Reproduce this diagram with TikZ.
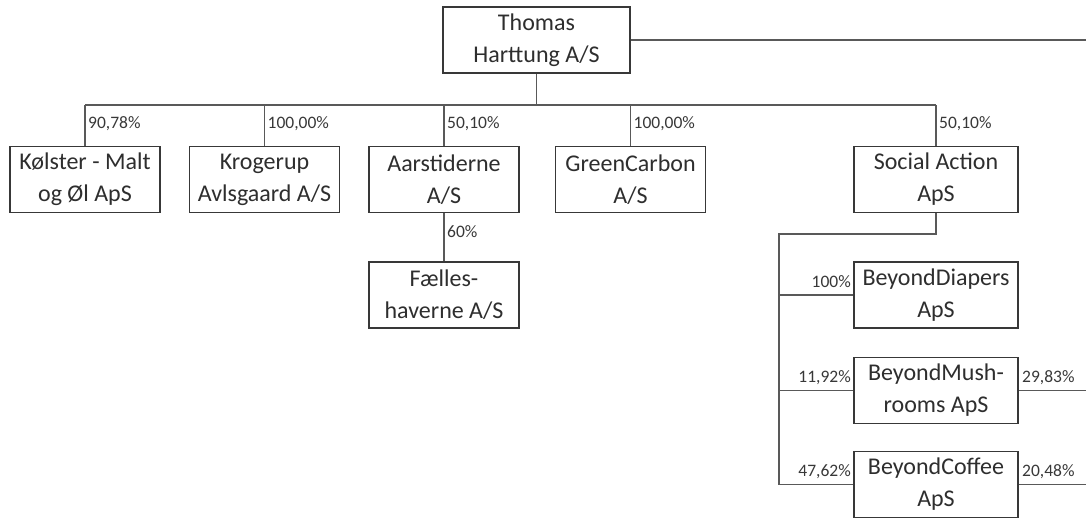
\documentclass[tikz,border=0pt]{standalone}
\usepackage{fontspec}
\setmainfont{Carlito}
\begin{document}
\begin{tikzpicture}[x=1pt,y=-1pt,
  box/.style={draw=black!78, line width=1.8pt, fill=white, inner sep=0pt,
    minimum width=150pt, minimum height=66pt, align=center, text=black!82,
    font=\fontsize{24}{32}\selectfont},
  wbox/.style={box, minimum width=164pt},
  conn/.style={draw=black!65, line width=1.6pt},
  pct/.style={inner sep=1pt, text=black!78, font=\fontsize{17.5}{19}\selectfont}]
\useasboundingbox (0,0) rectangle (1086,517);

% boxes
\node[box, minimum width=187pt] (th) at (536.5,40) {Thomas\\Harttung A/S};
\node[box] (ko) at (85,179.5) {Kølster - Malt\\og Øl ApS};
\node[box] (kr) at (264.5,179.5) {Krogerup\\Avlsgaard A/S};
\node[box] (aa) at (444,179.5) {Aarstiderne\\A/S};
\node[box] (gc) at (630.5,179.5) {GreenCarbon\\A/S};
\node[wbox] (sa) at (936,179.5) {Social Action\\ApS};
\node[box] (fh) at (444,295) {Fælles-\\haverne A/S};
\node[wbox] (bd) at (936,295) {BeyondDiapers\\ApS};
\node[wbox] (bm) at (936,390.5) {BeyondMush-\\rooms ApS};
\node[wbox] (bc) at (936,484.5) {BeyondCoffee\\ApS};

% coordinates
\coordinate (busL) at (85,105);
\coordinate (busR) at (936,105);
\coordinate (sv) at (779,234);
\coordinate (eTh) at (1086,40);
\coordinate (eBm) at (1086,390.5);
\coordinate (eBc) at (1086,484.5);

% connectors
\draw[conn] (th.south) -- (th.south |- busL);
\draw[conn] (busL) -- (busR);
\draw[conn] (busL) -- (ko.north);
\draw[conn] (kr.north |- busL) -- (kr.north);
\draw[conn] (aa.north |- busL) -- (aa.north);
\draw[conn] (gc.north |- busL) -- (gc.north);
\draw[conn] (busR) -- (sa.north);
\draw[conn] (th.east) -- (eTh);
\draw[conn] (aa.south) -- (fh.north);
\draw[conn] (sa.south) |- (sv) -- (sv |- bc.west);
\draw[conn] (sv |- bd.west) -- (bd.west);
\draw[conn] (sv |- bm.west) -- (bm.west);
\draw[conn] (sv |- bc.west) -- (bc.west);
\draw[conn] (bm.east) -- (eBm);
\draw[conn] (bc.east) -- (eBc);

% percentages
\node[pct, anchor=west] at (87,124) {90,78\%};
\node[pct, anchor=west] at (266.5,124) {100,00\%};
\node[pct, anchor=west] at (446,124) {50,10\%};
\node[pct, anchor=west] at (632.5,124) {100,00\%};
\node[pct, anchor=west] at (938,124) {50,10\%};
\node[pct, anchor=west] at (446,232) {60\%};
\node[pct, anchor=east] at (852,282) {100\%};
\node[pct, anchor=east] at (852,378) {11,92\%};
\node[pct, anchor=west] at (1021,378) {29,83\%};
\node[pct, anchor=east] at (852,472) {47,62\%};
\node[pct, anchor=west] at (1021,472) {20,48\%};
\end{tikzpicture}
\end{document}
